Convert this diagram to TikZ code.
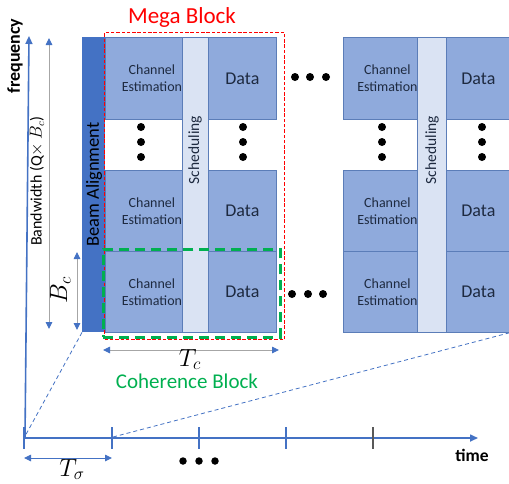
\documentclass[tikz,border=0pt]{standalone}
\usepackage{fontspec}
\setmainfont{Carlito}
\usetikzlibrary{arrows.meta}
\definecolor{axblue}{HTML}{4472C4}
\definecolor{boxfill}{HTML}{8FAADC}
\definecolor{boxline}{HTML}{5B7DB8}
\definecolor{schedfill}{HTML}{DAE3F3}
\definecolor{txt}{HTML}{1E2A40}
\definecolor{megared}{HTML}{FF0000}
\definecolor{cohgreen}{HTML}{00B050}
\tikzset{
  cebox/.style={draw=boxline, fill=boxfill, line width=0.8pt, inner sep=0pt, anchor=north west},
  cetext/.style={align=center, text=txt, inner sep=0pt, font=\fontsize{14}{17}\selectfont},
  datatext/.style={text=txt, inner sep=0pt, font=\fontsize{18}{20}\selectfont},
  schedbar/.style={draw=boxline, fill=schedfill, line width=0.8pt, inner sep=0pt, anchor=north west},
  schedtext/.style={rotate=90, text=txt, inner sep=0pt, font=\fontsize{15.5}{17}\selectfont},
  vdots/.style={circle, fill=black, inner sep=0pt, minimum size=8pt},
  axis/.style={draw=axblue, line width=1.6pt},
  dimarrow/.style={draw=gray!70, line width=0.9pt, {Triangle[length=7pt,width=6.5pt,color=axblue]}-{Triangle[length=7pt,width=6.5pt,color=axblue]}},
  zoomline/.style={draw=axblue, line width=0.8pt, dash pattern=on 4pt off 3pt},
  tickmark/.style={draw=axblue, line width=1.4pt},
  mathlbl/.style={inner sep=0pt, anchor=base, font=\fontsize{24}{26}\selectfont}
}
\begin{document}
\begin{tikzpicture}[x=1pt,y=-1pt]
\useasboundingbox (0,0) rectangle (509,483);
\clip (0,0) rectangle (509,483);
\fill[white] (0,0) rectangle (509,483);

% axes
\coordinate (O) at (24,438);
\coordinate (fbot) at (25,438);
\coordinate (ftop) at (29,36);
\coordinate (tend) at (478,438);
\draw[axis, -{Triangle[length=8pt,width=7pt]}] (fbot) -- (ftop);
\draw[axis, -{Triangle[length=8pt,width=7pt]}] (O) -- (tend);
\node[rotate=90, inner sep=0pt, font=\bfseries\fontsize{18}{20}\selectfont] (freq) at (15,56) {frequency};
\node[inner sep=0pt, font=\bfseries\fontsize{17.5}{20}\selectfont] (time) at (472,455) {time};

% ticks
\foreach \x/\n in {24/t0,112/t1,199/t2,286/t3} {
  \draw[tickmark] (\x,427) -- (\x,449);
  \coordinate (\n) at (\x,438);
}
\draw[tickmark, draw=gray!70!black] (373,427) -- (373,449);
\coordinate (t1top) at (113,437);

% T sigma
\coordinate (ts1) at (24,458);
\coordinate (ts2) at (112,458);
\draw[dimarrow, draw=axblue] (ts1) -- (ts2);
\node[mathlbl] (tsig) at (72,476) {$T_\sigma$};
\foreach \x in {183,199,215} \node[vdots, minimum size=7.5pt] at (\x,461) {};

% beam alignment
\node[draw=none, fill=axblue, minimum width=23pt, minimum height=295pt, inner sep=0pt, anchor=north west] (beam) at (82,37) {};
\node[rotate=90, inner sep=0pt, font=\fontsize{18.5}{20}\selectfont, text=black] (beamlbl) at (94,184.5) {Beam Alignment};

% dashed zoom lines
\coordinate (zr) at (520,330);
\draw[zoomline] (beam.south west) -- (O);
\draw[zoomline] (t1top) -- (zr);

% column 1
\node[cebox, minimum width=77pt, minimum height=82pt] (ce1a) at (105,37) {};
\node[cebox, minimum width=77pt, minimum height=81pt] (ce1b) at (105,170) {};
\node[cebox, minimum width=77pt, minimum height=81pt] (ce1c) at (105,251) {};
\node[cebox, minimum width=68pt, minimum height=82pt] (d1a) at (208,37) {};
\node[cebox, minimum width=68pt, minimum height=81pt] (d1b) at (208,170) {};
\node[cebox, minimum width=68pt, minimum height=81pt] (d1c) at (208,251) {};
\foreach \n in {ce1a,ce1b,ce1c} \node[cetext, xshift=8pt] at (\n.center) {Channel\\Estimation};
\foreach \n in {d1a,d1b,d1c} \node[datatext] at (\n.center) {Data};
\node[schedbar, minimum width=26pt, minimum height=295pt] (s1) at (182,37) {};
\node[schedtext] (s1lbl) at (195,150) {Scheduling};
\foreach \y in {127,142,157} {
  \node[vdots] at (141,\y) {};
  \node[vdots] at (243,\y) {};
}

% column 2
\node[cebox, minimum width=74pt, minimum height=82pt] (ce2a) at (343,37) {};
\node[cebox, minimum width=74pt, minimum height=81pt] (ce2b) at (343,170) {};
\node[cebox, minimum width=74pt, minimum height=81pt] (ce2c) at (343,251) {};
\node[cebox, minimum width=70pt, minimum height=82pt] (d2a) at (446,37) {};
\node[cebox, minimum width=70pt, minimum height=81pt] (d2b) at (446,170) {};
\node[cebox, minimum width=70pt, minimum height=81pt] (d2c) at (446,251) {};
\foreach \n in {ce2a,ce2b,ce2c} \node[cetext, xshift=7pt] at (\n.center) {Channel\\Estimation};
\foreach \n in {d2a,d2b,d2c} \node[datatext, xshift=-3pt] at (\n.center) {Data};
\node[schedbar, minimum width=29pt, minimum height=295pt] (s2) at (417,37) {};
\node[schedtext] (s2lbl) at (432,150) {Scheduling};
\foreach \y in {127,142,157} {
  \node[vdots] at (382,\y) {};
  \node[vdots] at (482,\y) {};
}

% horizontal dots
\foreach \x in {295,310,326} \node[vdots] at (\x,77) {};
\foreach \x in {292,308,323} \node[vdots] at (\x,294) {};

% mega block
\node[draw=megared, line width=1.2pt, dash pattern=on 3.5pt off 1.8pt, minimum width=180pt, minimum height=307pt, inner sep=0pt, anchor=north west] (mega) at (104,32) {};
\node[text=megared, inner sep=0pt, font=\fontsize{23}{25}\selectfont] (megalbl) at (182,17) {Mega Block};

% coherence block
\node[draw=cohgreen, line width=2.6pt, dash pattern=on 10pt off 6pt, minimum width=177pt, minimum height=88pt, inner sep=0pt, anchor=north west] (coh) at (102,248) {};
\node[text=cohgreen, inner sep=0pt, font=\fontsize{21}{23}\selectfont] (cohlbl) at (187,381) {Coherence Block};

% T_c
\coordinate (tc1) at (103,350);
\coordinate (tc2) at (279,350);
\draw[dimarrow] (tc1) -- (tc2);
\node[mathlbl] (tclbl) at (190,366) {$T_c$};

% bandwidth
\coordinate (bw1) at (49,38);
\coordinate (bw2) at (49,329);
\draw[dimarrow] (bw1) -- (bw2);
\node[rotate=90, inner sep=0pt, font=\fontsize{16}{18}\selectfont] (bwlbl) at (37,181) {Bandwidth (Q$\times$ $B_c$)};

% B_c
\coordinate (bc1) at (77,252);
\coordinate (bc2) at (77,330);
\draw[dimarrow] (bc1) -- (bc2);
\node[rotate=90, mathlbl] (bclbl) at (67,290) {$B_c$};
\end{tikzpicture}
\end{document}
